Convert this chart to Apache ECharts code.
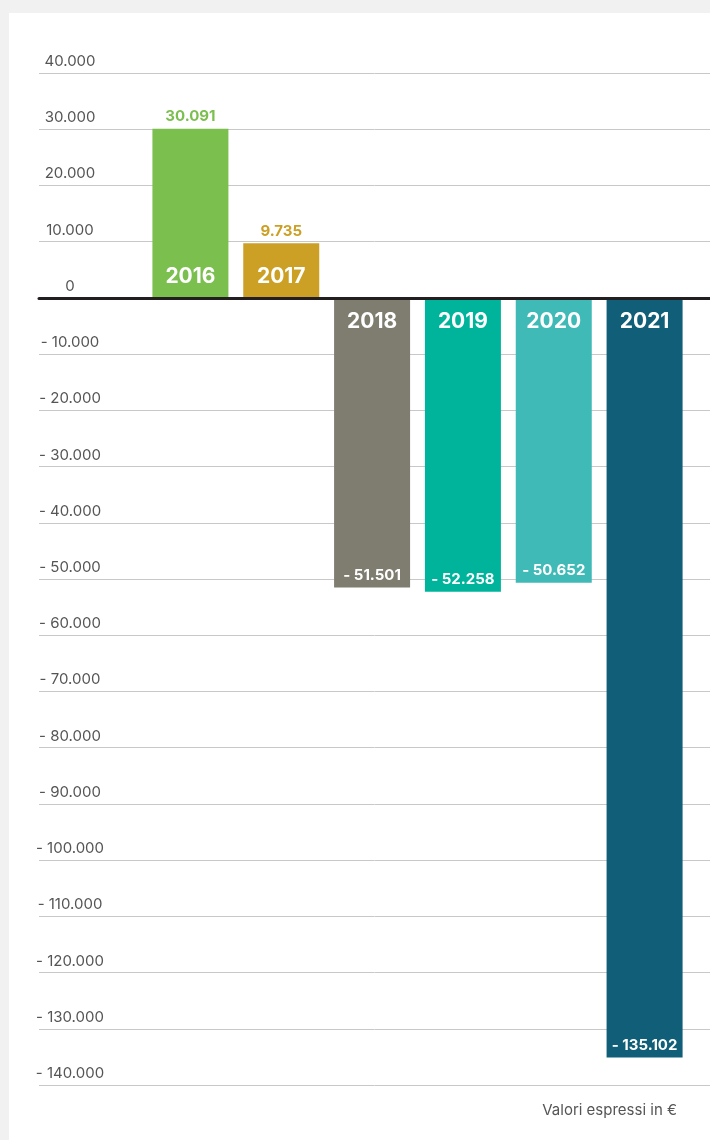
<!DOCTYPE html>
<html>
<head>
<meta charset="utf-8">
<script src="https://cdn.jsdelivr.net/npm/echarts@6/dist/echarts.min.js"></script>
<style>
  body { margin: 0; background: #f1f1f1; }
  #panel { position: absolute; left: 9px; top: 13px; width: 701px; height: 1127px; background: #fff; }
  #chart { position: absolute; left: 0; top: 0; width: 710px; height: 1140px; }
</style>
</head>
<body>
<div id="panel"></div>
<div id="chart"></div>
<script>
// dati
var years = ['2016', '2017', '2018', '2019', '2020', '2021'];
var values = [30091, 9735, -51501, -52258, -50652, -135102];
var barColors = ['#7bbf4f', '#cba024', '#7f7d70', '#00b49c', '#3fbab7', '#105e78'];
var yMin = -140000, yMax = 40000, yStep = 10000;

// formato italiano: 30.091 / - 51.501
function fmt(v) {
    var s = String(Math.abs(v)).replace(/\B(?=(\d{3})+(?!\d))/g, '.');
    return (v < 0 ? '- ' : '') + s;
}

var font = 'Inter';
var myChart = echarts.init(document.getElementById('chart'));

var barData = values.map(function (v, i) {
    return { value: v, itemStyle: { color: barColors[i] } };
});
var yearData = years.map(function (y, i) {
    return {
        value: [y, 0],
        label: { offset: [0, values[i] >= 0 ? -21 : 24] }
    };
});
var valData = years.map(function (y, i) {
    return {
        value: [y, values[i]],
        label: { color: values[i] >= 0 ? barColors[i] : '#fff' }
    };
});

var option = {
    animation: false,
    grid: [
        { left: 39, right: 0, top: 73, bottom: 55 },
        { left: 145, right: 20, top: 73, bottom: 55 }
    ],
    xAxis: [
        {
            gridIndex: 0, type: 'category', data: years, z: 10,
            axisLine: { show: true, onZero: true, lineStyle: { color: '#231f20', width: 3 } },
            axisTick: { show: false }, axisLabel: { show: false }
        },
        {
            gridIndex: 1, type: 'category', data: years,
            axisLine: { show: false }, axisTick: { show: false }, axisLabel: { show: false }
        }
    ],
    yAxis: [
        {
            gridIndex: 0, type: 'value', min: yMin, max: yMax, interval: yStep,
            axisLine: { show: false }, axisTick: { show: false },
            splitLine: { lineStyle: { color: '#c8c8c8', width: 1 } },
            axisLabel: {
                inside: true, margin: 31, align: 'center', verticalAlign: 'bottom',
                padding: [0, 0, 4, 0],
                color: '#555', fontSize: 15, fontFamily: font,
                formatter: function (v) { return fmt(v); }
            }
        },
        {
            gridIndex: 1, type: 'value', min: yMin, max: yMax, interval: yStep,
            show: false
        }
    ],
    series: [
        {
            type: 'bar', xAxisIndex: 1, yAxisIndex: 1, barWidth: 76,
            data: barData
        },
        {
            // etichette anno
            type: 'scatter', xAxisIndex: 1, yAxisIndex: 1, symbolSize: 1, z: 5,
            itemStyle: { color: 'rgba(0,0,0,0)', opacity: 1 },
            label: {
                show: true, position: 'inside', color: '#fff', fontSize: 21,
                fontWeight: 'bold', fontFamily: font,
                formatter: function (p) { return p.value[0]; }
            },
            data: yearData
        },
        {
            // etichette valore
            type: 'scatter', xAxisIndex: 1, yAxisIndex: 1, symbolSize: 1, z: 5,
            itemStyle: { color: 'rgba(0,0,0,0)', opacity: 1 },
            label: {
                show: true, position: 'inside', offset: [0, -12], fontSize: 15,
                fontWeight: 'bold', fontFamily: font,
                formatter: function (p) { return fmt(p.value[1]); }
            },
            data: valData
        }
    ],
    graphic: [
        {
            type: 'text', right: 33, top: 1103,
            style: { text: 'Valori espressi in €', fill: '#555', fontSize: 15, fontFamily: font }
        }
    ]
};
myChart.setOption(option);
</script>
</body>
</html>
